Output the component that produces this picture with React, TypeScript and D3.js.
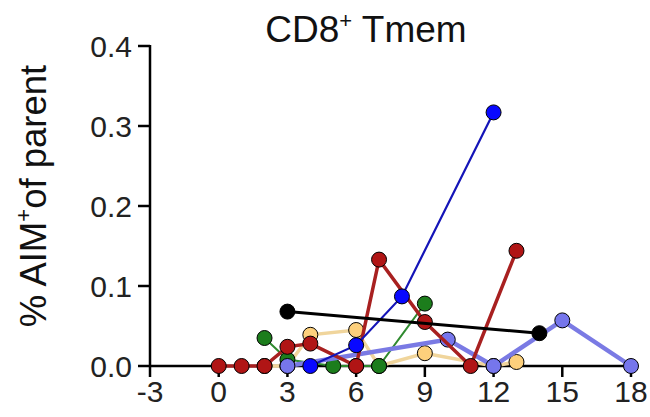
import React from "react";
import * as d3 from "d3";

// Axis ticks
const xTicks = [-3, 0, 3, 6, 9, 12, 15, 18];
const yTicks = [0, 0.1, 0.2, 0.3, 0.4];
const yTickLabels = ["0.0", "0.1", "0.2", "0.3", "0.4"];

// Individual donor trajectories (x = time point, y = % AIM+ of parent)
const yellowX = [2, 3, 4, 6, 7, 9, 12, 13];
const yellowY = [0, 0, 0.039, 0.045, 0, 0.016, 0, 0.005];

const greenX = [2, 3, 5, 6, 7, 9];
const greenY = [0.035, 0.008, 0, 0, 0, 0.078];

const lavenderX = [3, 10, 12, 15, 18];
const lavenderY = [0, 0.033, 0, 0.057, 0];

const redX = [0, 1, 2, 3, 4, 6, 7, 9, 11, 13];
const redY = [0, 0, 0, 0.024, 0.028, 0, 0.133, 0.055, 0, 0.144];

const blueX = [4, 6, 8, 12];
const blueY = [0, 0.026, 0.087, 0.317];

const blackX = [3, 14];
const blackY = [0.068, 0.041];

const series = [
  { name: "yellow", xs: yellowX, ys: yellowY, line: "#f0d59c", fill: "#fdd07c", width: 3.5 },
  { name: "green", xs: greenX, ys: greenY, line: "#2f8a2f", fill: "#1c7d1c", width: 2 },
  { name: "lavender", xs: lavenderX, ys: lavenderY, line: "#7a7ae4", fill: "#7676ec", width: 4.5 },
  { name: "red", xs: redX, ys: redY, line: "#a82020", fill: "#b01515", width: 3.5 },
  { name: "blue", xs: blueX, ys: blueY, line: "#1414b8", fill: "#0808ff", width: 2.2 },
  { name: "black", xs: blackX, ys: blackY, line: "#000000", fill: "#000000", width: 3 },
];

const W = 650;
const H = 417;
const FONT = "'Liberation Sans', Arial, sans-serif";

export default function App() {
  const x = d3.scaleLinear().domain([-3, 18]).range([150, 631]);
  const y = d3.scaleLinear().domain([0, 0.4]).range([366, 46]);
  const line = d3
    .line<[number, number]>()
    .x((d) => x(d[0]))
    .y((d) => y(d[1]));

  return (
    <svg
      width={W}
      height={H}
      style={{ position: "absolute", left: 0, top: 0, background: "#fff" }}
      fontFamily={FONT}
    >
      {/* title */}
      <text x={366} y={42} fontSize={37} textAnchor="middle" fill="#111">
        CD8<tspan fontSize={22} dy={-14}>+</tspan>
        <tspan dy={14}> Tmem</tspan>
      </text>

      {/* y axis label */}
      <text
        transform={`translate(46, 196) rotate(-90)`}
        fontSize={36.5}
        textAnchor="middle"
        fill="#111"
      >
        % AIM<tspan fontSize={22} dy={-15}>+</tspan>
        <tspan dy={15}>of parent</tspan>
      </text>

      {/* y axis */}
      <line x1={x(-3)} x2={x(-3)} y1={y(0.4) - 1} y2={y(0) + 1} stroke="#000" strokeWidth={2.5} />
      {yTicks.map((t, i) => (
        <g key={"yt" + i}>
          <line x1={x(-3) - 12} x2={x(-3)} y1={y(t)} y2={y(t)} stroke="#000" strokeWidth={2.5} />
          <text
            x={x(-3) - 18}
            y={y(t)}
            fontSize={30}
            textAnchor="end"
            dominantBaseline="central"
            fill="#222"
          >
            {yTickLabels[i]}
          </text>
        </g>
      ))}

      {/* x axis */}
      <line x1={x(-3)} x2={x(18) + 1} y1={y(0)} y2={y(0)} stroke="#000" strokeWidth={2.5} />
      {xTicks.map((t) => (
        <g key={"xt" + t}>
          <line x1={x(t)} x2={x(t)} y1={y(0)} y2={y(0) + 11} stroke="#000" strokeWidth={2.5} />
          <text x={x(t)} y={y(0) + 36} fontSize={30} textAnchor="middle" fill="#222">
            {t}
          </text>
        </g>
      ))}

      {/* trajectories */}
      {series.map((s) => {
        const pts = s.xs.map((v, i) => [v, s.ys[i]] as [number, number]);
        return (
          <g key={s.name}>
            <path d={line(pts) || ""} fill="none" stroke={s.line} strokeWidth={s.width} />
            {pts.map((p, i) => (
              <circle
                key={i}
                cx={x(p[0])}
                cy={y(p[1])}
                r={7.5}
                fill={s.fill}
                stroke="#000"
                strokeWidth={1}
              />
            ))}
          </g>
        );
      })}
    </svg>
  );
}
